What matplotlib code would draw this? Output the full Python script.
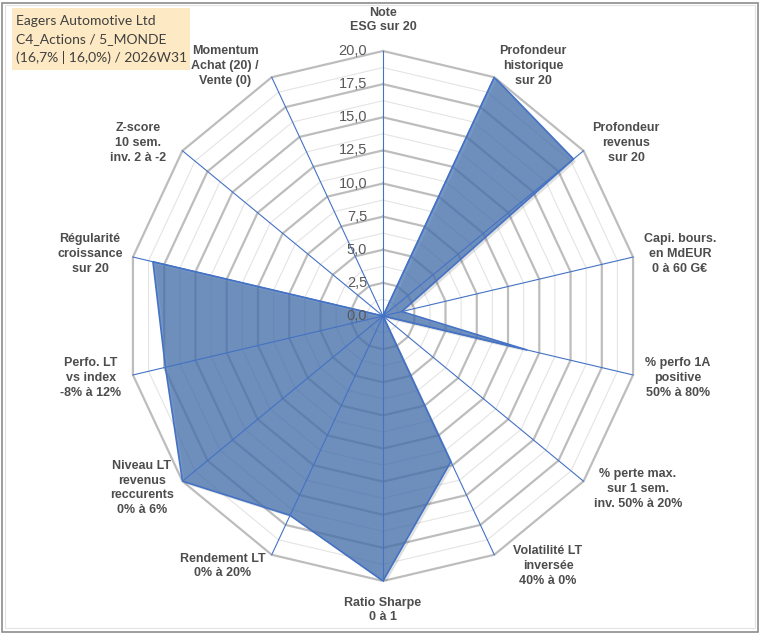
import numpy as np
import matplotlib
matplotlib.use("Agg")
import matplotlib.pyplot as plt
from matplotlib.patches import Rectangle
import matplotlib.transforms as mtransforms

# ---------------- data ----------------
categories = [
    "Note\nESG sur 20",
    "Profondeur\nhistorique\nsur 20",
    "Profondeur\nrevenus\nsur 20",
    "Capi. bours.\nen MdEUR\n0 à 60 G€",
    "% perfo 1A\npositive\n50% à 80%",
    "% perte max.\nsur 1 sem.\ninv. 50% à 20%",
    "Volatilité LT\ninversée\n40% à 0%",
    "Ratio Sharpe\n0 à 1",
    "Rendement LT\n0% à 20%",
    "Niveau LT\nrevenus\nreccurents\n0% à 6%",
    "Perfo. LT\nvs index\n-8% à 12%",
    "Régularité\ncroissance\nsur 20",
    "Z-score\n10 sem.\ninv. 2 à -2",
    "Momentum\nAchat (20) /\nVente (0)",
]
values = [0.0, 20.0, 19.0, 1.5, 11.5, 0.0, 12.2, 20.0, 16.7, 20.0, 17.4, 18.4, 0.0, 0.0]
radial_ticks = [0.0, 2.5, 5.0, 7.5, 10.0, 12.5, 15.0, 17.5, 20.0]
minor_ticks = [1.25, 3.75, 6.25, 8.75, 11.25, 13.75, 16.25, 18.75]
title_lines = ["Eagers Automotive Ltd", "C4_Actions / 5_MONDE", "(16,7% | 16,0%) / 2026W31"]

# ---------------- layout ----------------
W, H = 760, 633
DPI = 100
cx, cy = 383, 316          # centre in image pixels
rx, ry = 256.5, 265.0      # pixel radius of the 20 ring (x / y)

# label centre offsets (pixels, dx right, dy down) from the centre
label_offsets = [
    (0, -296), (150, -250), (243, -173), (297, -62), (295, 62), (255, 173),
    (165, 250), (0, 294), (-160, 250), (-241, 172), (-292, 62), (-293, -62),
    (-245, -173), (-158, -250),
]

fig = plt.figure(figsize=(W / DPI, H / DPI), dpi=DPI)
fig.patch.set_facecolor("white")

ax = fig.add_axes([(cx - rx) / W, (H - (cy + ry)) / H, 2 * rx / W, 2 * ry / H],
                  projection="polar")
ax.set_aspect("auto")
ax.set_theta_offset(np.pi / 2)
ax.set_theta_direction(-1)
ax.set_ylim(0, 20)
ax.set_xticks([])
ax.set_yticks([])
ax.grid(False)
ax.spines["polar"].set_visible(False)
ax.patch.set_alpha(0)

n = len(categories)
theta = np.linspace(0, 2 * np.pi, n, endpoint=False)
theta_c = np.append(theta, theta[0])

# minor grid polygons
for r in minor_ticks:
    ax.plot(theta_c, [r] * (n + 1), color="#E4E4E4", lw=0.8, zorder=1, clip_on=False)
# major grid polygons
for r in radial_ticks[1:]:
    ax.plot(theta_c, [r] * (n + 1), color="#BDBDBD", lw=1.6, zorder=1.2, clip_on=False)

# data polygon
vals_c = np.append(values, values[0])
shadow = mtransforms.offset_copy(ax.transData, fig=fig, x=2.5, y=-2.5, units="dots")
ax.fill(theta_c, vals_c, color="#000000", alpha=0.12, lw=0, zorder=1.5, transform=shadow)
ax.fill(theta_c, vals_c, facecolor="#4672B0", alpha=0.74, edgecolor="none", zorder=2)
ax.plot(theta_c, vals_c, color="#4472C4", lw=1.2, zorder=3)

# spokes
for t in theta:
    ax.plot([t, t], [0, 20], color="#4472C4", lw=0.8, zorder=4, clip_on=False)

# radial tick labels
for r in radial_ticks:
    ax.annotate(f"{r:.1f}".replace(".", ","), xy=(0, r), xytext=(-16, 0),
                textcoords="offset pixels", ha="right", va="center",
                fontsize=10.5, color="#595959", family="Liberation Sans",
                zorder=5, annotation_clip=False)

# category labels
for lab, (dx, dy) in zip(categories, label_offsets):
    ax.annotate(lab, xy=(0, 0), xytext=(dx, -dy), textcoords="offset pixels",
                ha="center", va="center", multialignment="center",
                fontsize=9, fontweight="bold", color="#4D4D4D",
                family="Liberation Sans", linespacing=1.3,
                annotation_clip=False)

# title box
fig.patches.append(Rectangle((12 / W, 1 - 70 / H), 178 / W, 62 / H,
                             transform=fig.transFigure, facecolor="#FDE9C3",
                             edgecolor="none", zorder=0))
for i, line in enumerate(title_lines):
    fig.text(16 / W, 1 - (21 + 18.5 * i) / H, line, ha="left", va="center",
             fontsize=10, color="#404040", family="Lato")

# chart frame
fig.patches.append(Rectangle((1.5 / W, 1.5 / H), (W - 4) / W, (H - 4) / H,
                             transform=fig.transFigure, facecolor="none",
                             edgecolor="#8C8C8C", lw=1.2, zorder=10))
fig.patches.append(Rectangle((5 / W, 5 / H), (W - 10) / W, (H - 10) / H,
                             transform=fig.transFigure, facecolor="none",
                             edgecolor="#E3E3E3", lw=0.8, zorder=10))

fig.savefig("out.png", dpi=DPI)
